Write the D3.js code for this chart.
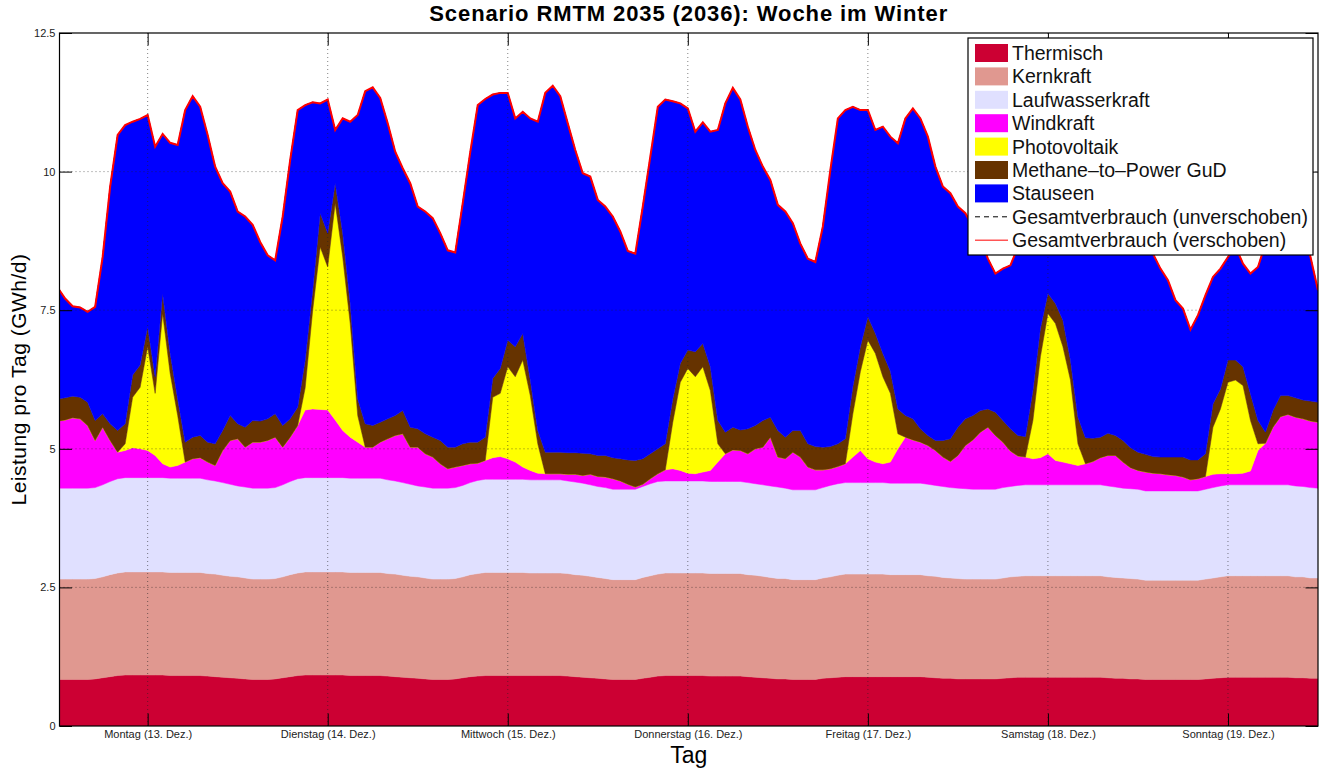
<!DOCTYPE html>
<html>
<head>
<meta charset="utf-8">
<script src="https://cdn.jsdelivr.net/npm/d3@7"></script>
<style>
body { margin: 0; background: #fff; }
text { font-family: "Liberation Sans", Arial, sans-serif; }
</style>
</head>
<body>
<script>
// hourly values, Montag 0:00 .. Sonntag 24:00 (GWh/d)
var dayTicks = [12, 36, 60, 84, 108, 132, 156];
var dayLabels = ["Montag (13. Dez.)", "Dienstag (14. Dez.)", "Mittwoch (15. Dez.)", "Donnerstag (16. Dez.)",
                 "Freitag (17. Dez.)", "Samstag (18. Dez.)", "Sonntag (19. Dez.)"];
var yTicks = [0, 2.5, 5, 7.5, 10, 12.5];
var yTickLabels = ["0", "2.5", "5", "7.5", "10", "12.5"];
var seriesNames = ["Thermisch", "Kernkraft", "Laufwasserkraft", "Windkraft", "Photovoltaik", "Methane\u2013to\u2013Power GuD", "Stauseen"];
var seriesColors = ["#cc0033", "#e09890", "#e0e0ff", "#ff00ff", "#ffff00", "#663300", "#0000ff"];

var thermisch = [
  .84,.84,.84,.84,.84,.85,.87,.89,.91,.92,.92,.92,.92,.92,.92,.91,.91,.91,.91,.91,.90,.89,.88,.87,
  .86,.85,.84,.84,.84,.85,.87,.89,.91,.92,.92,.92,.92,.92,.92,.91,.91,.91,.91,.91,.90,.89,.88,.87,
  .86,.85,.84,.84,.84,.85,.87,.89,.90,.91,.91,.91,.91,.91,.91,.91,.91,.91,.91,.91,.90,.89,.88,.87,
  .86,.85,.84,.84,.84,.84,.86,.88,.90,.91,.91,.91,.91,.91,.91,.90,.90,.90,.90,.90,.89,.88,.87,.86,
  .85,.85,.84,.84,.84,.84,.86,.87,.88,.89,.89,.89,.89,.89,.89,.89,.89,.89,.89,.89,.88,.87,.86,.86,
  .85,.85,.85,.85,.85,.85,.86,.87,.88,.88,.88,.88,.88,.88,.88,.88,.88,.88,.88,.88,.87,.86,.86,.85,
  .85,.84,.84,.84,.84,.84,.84,.84,.84,.85,.86,.87,.88,.88,.88,.88,.88,.88,.88,.88,.88,.87,.87,.86,.86];
var kernkraft = [
  1.81,1.81,1.81,1.81,1.81,1.81,1.82,1.84,1.85,1.86,1.86,1.86,1.86,1.86,1.86,1.86,1.86,1.86,1.86,1.86,1.85,1.85,1.84,1.83,
  1.83,1.82,1.81,1.81,1.81,1.81,1.82,1.84,1.85,1.86,1.86,1.86,1.86,1.86,1.86,1.86,1.86,1.86,1.86,1.86,1.85,1.85,1.84,1.83,
  1.83,1.82,1.81,1.81,1.81,1.81,1.82,1.84,1.85,1.86,1.86,1.86,1.86,1.86,1.86,1.85,1.85,1.85,1.85,1.85,1.85,1.84,1.84,1.83,
  1.82,1.81,1.80,1.80,1.80,1.80,1.82,1.83,1.84,1.85,1.85,1.85,1.85,1.85,1.85,1.85,1.85,1.85,1.85,1.85,1.84,1.84,1.83,1.82,
  1.81,1.81,1.80,1.80,1.80,1.80,1.81,1.82,1.84,1.85,1.85,1.85,1.85,1.85,1.85,1.84,1.84,1.84,1.84,1.84,1.83,1.83,1.82,1.81,
  1.81,1.80,1.80,1.80,1.80,1.80,1.81,1.82,1.82,1.83,1.83,1.83,1.83,1.83,1.83,1.83,1.83,1.83,1.83,1.83,1.82,1.82,1.81,1.81,
  1.80,1.79,1.79,1.79,1.79,1.79,1.79,1.79,1.79,1.80,1.81,1.82,1.83,1.83,1.83,1.83,1.83,1.83,1.83,1.83,1.83,1.82,1.82,1.81,1.81];
var laufwasser = [
  1.64,1.64,1.64,1.64,1.64,1.64,1.66,1.68,1.70,1.70,1.70,1.70,1.70,1.70,1.70,1.70,1.70,1.70,1.70,1.70,1.69,1.68,1.67,1.66,
  1.64,1.64,1.64,1.64,1.64,1.64,1.66,1.68,1.70,1.70,1.70,1.70,1.70,1.70,1.70,1.70,1.70,1.70,1.70,1.70,1.69,1.68,1.67,1.66,
  1.64,1.64,1.64,1.64,1.64,1.64,1.65,1.66,1.68,1.68,1.68,1.68,1.68,1.68,1.68,1.68,1.68,1.68,1.68,1.68,1.67,1.67,1.66,1.65,
  1.64,1.64,1.63,1.63,1.63,1.63,1.64,1.66,1.67,1.66,1.66,1.66,1.66,1.66,1.66,1.66,1.66,1.66,1.66,1.66,1.66,1.65,1.65,1.65,
  1.65,1.63,1.62,1.62,1.62,1.62,1.63,1.65,1.65,1.65,1.65,1.65,1.65,1.65,1.65,1.65,1.65,1.65,1.65,1.65,1.65,1.64,1.64,1.63,
  1.63,1.63,1.62,1.62,1.62,1.62,1.63,1.63,1.64,1.64,1.64,1.64,1.64,1.64,1.64,1.64,1.64,1.64,1.64,1.64,1.64,1.63,1.62,1.62,
  1.62,1.61,1.61,1.61,1.61,1.61,1.61,1.61,1.61,1.62,1.63,1.64,1.64,1.64,1.64,1.64,1.64,1.64,1.64,1.64,1.64,1.64,1.63,1.63,1.62];
var windkraft = [
  1.21,1.23,1.27,1.25,1.13,.85,1.04,.74,.48,.49,.54,.52,.49,.40,.25,.20,.23,.29,.35,.37,.32,.28,.58,.79,
  .85,.72,.83,.83,.86,.91,.68,.80,.96,1.22,1.24,1.23,1.22,1.04,.85,.74,.65,.56,.56,.65,.74,.82,.88,.67,
  .70,.60,.56,.44,.35,.37,.36,.34,.31,.34,.39,.41,.37,.31,.22,.17,.12,.11,.11,.11,.12,.14,.14,.19,
  .18,.19,.19,.15,.09,.04,.04,.09,.14,.20,.22,.19,.14,.13,.16,.20,.35,.50,.57,.56,.52,.63,.68,.88,
  .54,.53,.68,.59,.41,.36,.32,.30,.31,.34,.46,.58,.43,.37,.34,.38,.62,.83,.78,.74,.70,.63,.53,.47,
  .59,.78,.89,1.03,1.12,.97,.82,.64,.53,.50,.47,.49,.56,.44,.41,.38,.35,.38,.42,.49,.55,.57,.47,.38,
  .34,.34,.32,.31,.29,.28,.25,.20,.22,.23,.24,.22,.20,.20,.21,.25,.62,.75,1.04,1.23,1.27,1.24,1.22,1.20,1.19];
var photovoltaik = [
  0,0,0,0,0,0,0,0,0,.12,.91,1.11,1.87,1.12,2.71,1.69,.90,0,0,0,0,0,0,0,
  0,0,0,0,0,0,0,0,0,.40,1.78,2.93,2.58,3.91,3.13,2.05,.48,0,0,0,0,0,0,0,
  0,0,0,0,0,0,0,0,0,0,1.09,1.14,1.66,1.54,1.93,1.35,.53,0,0,0,0,0,0,0,
  0,0,0,0,0,0,0,0,0,0,.84,1.59,1.89,1.75,1.90,1.44,.33,0,0,0,0,0,0,0,
  0,0,0,0,0,0,0,0,0,0,.78,1.42,2.14,1.96,1.57,1.24,.27,0,0,0,0,0,0,0,
  0,0,0,0,0,0,0,0,0,0,.69,1.82,2.53,2.47,2.08,1.51,.39,0,0,0,0,0,0,0,
  0,0,0,0,0,0,0,0,0,0,.85,1.17,1.65,1.69,1.58,.91,.12,0,0,0,0,0,0,0,0];
var methanGud = [
  .40,.40,.39,.39,.42,.36,.24,.30,.39,.36,.40,.40,.36,.30,.36,.36,.30,.36,.39,.40,.36,.39,.36,.45,
  .27,.36,.39,.38,.39,.42,.39,.33,.33,.50,.36,.61,.61,.36,.43,.36,.30,.42,.39,.36,.36,.36,.42,.36,
  .33,.36,.36,.42,.39,.36,.39,.39,.38,.42,.34,.45,.48,.54,.48,.28,.24,.39,.39,.39,.39,.39,.40,.37,
  .38,.39,.38,.40,.44,.48,.46,.45,.45,.47,.42,.34,.33,.45,.42,.43,.42,.39,.41,.37,.45,.42,.48,.36,
  .48,.39,.39,.48,.42,.42,.41,.40,.41,.45,.49,.45,.42,.36,.42,.40,.45,.39,.38,.24,.18,.18,.30,.41,
  .51,.48,.44,.39,.33,.42,.39,.40,.37,.37,.54,.51,.36,.36,.48,.36,.48,.47,.42,.37,.40,.36,.39,.36,
  .33,.32,.30,.30,.32,.33,.36,.36,.34,.41,.42,.36,.40,.36,.34,.48,.42,.20,.30,.38,.34,.35,.34,.36,.36];
var stauseen = [
  2.01,1.79,1.62,1.62,1.63,2.05,2.83,4.28,5.33,5.39,4.57,4.44,3.82,4.15,2.88,3.80,4.58,5.99,6.15,5.93,5.54,5.00,4.46,4.04,
  3.83,3.80,3.53,3.23,2.95,2.77,3.77,4.67,5.36,4.60,3.39,1.98,2.41,.96,2.07,3.28,5.12,6.00,6.10,5.85,5.33,4.76,4.37,4.40,
  4.01,4.01,3.95,3.74,3.55,3.51,4.34,5.23,6.08,6.10,5.12,4.97,4.46,4.12,4.00,4.72,5.57,6.48,6.61,6.42,5.94,5.46,5.05,5.00,
  4.61,4.49,4.35,4.10,3.77,3.73,4.55,5.36,6.17,6.21,5.37,4.69,4.36,3.97,3.99,4.24,5.24,5.93,6.12,5.96,5.45,4.97,4.58,4.28,
  4.07,4.07,3.74,3.37,3.34,3.33,3.98,4.99,5.87,5.93,5.05,4.27,3.73,3.67,4.09,4.23,4.79,5.36,5.60,5.60,5.39,4.94,4.58,4.43,
  3.98,3.71,3.40,3.11,2.71,2.50,2.74,2.95,3.40,4.28,4.25,3.43,2.90,2.98,3.08,3.70,4.83,5.40,5.51,5.29,4.82,4.46,4.25,4.18,
  4.06,3.90,3.66,3.40,3.19,2.83,2.68,2.35,2.61,2.86,2.29,2.17,1.86,2.05,1.86,2.17,2.77,3.40,3.21,3.04,3.14,3.08,3.02,2.60,2.02];
var gesamtverbrauch = [
  7.91,7.71,7.57,7.55,7.47,7.56,8.46,9.73,10.66,10.84,10.90,10.95,11.02,10.45,10.68,10.52,10.48,11.11,11.36,11.17,10.66,10.09,9.79,9.64,
  9.28,9.19,9.04,8.73,8.49,8.40,9.19,10.21,11.11,11.20,11.25,11.23,11.30,10.75,10.96,10.90,11.02,11.45,11.52,11.33,10.87,10.36,10.06,9.79,
  9.37,9.28,9.16,8.89,8.58,8.54,9.43,10.35,11.20,11.31,11.39,11.42,11.42,10.96,11.08,10.96,10.90,11.42,11.55,11.36,10.87,10.39,9.97,9.91,
  9.49,9.37,9.19,8.92,8.57,8.52,9.37,10.27,11.17,11.30,11.27,11.23,11.14,10.72,10.89,10.72,10.75,11.23,11.51,11.30,10.81,10.39,10.09,9.85,
  9.40,9.28,9.07,8.70,8.43,8.37,9.01,10.03,10.96,11.11,11.17,11.11,11.11,10.75,10.81,10.63,10.51,10.96,11.14,10.96,10.63,10.09,9.73,9.61,
  9.37,9.25,9.00,8.80,8.43,8.16,8.25,8.31,8.64,9.50,10.30,10.60,10.70,10.60,10.40,10.30,10.40,10.60,10.70,10.50,10.10,9.70,9.40,9.20,
  9.00,8.80,8.52,8.25,8.04,7.68,7.53,7.15,7.41,7.77,8.10,8.25,8.46,8.65,8.34,8.16,8.28,8.70,8.90,9.00,9.10,9.00,8.90,8.46,7.86];

var width = 1321, height = 769;
var plot = {left: 59.5, right: 1318, top: 33, bottom: 726};

var svg = d3.select("body").append("svg")
    .attr("width", width)
    .attr("height", height);

var x = d3.scaleLinear().domain([0.25, 168]).range([plot.left, plot.right]);
var y = d3.scaleLinear().domain([0, 12.5]).range([plot.bottom, plot.top]);

// build the table for the stack
var seriesData = [thermisch, kernkraft, laufwasser, windkraft, photovoltaik, methanGud, stauseen];
var table = gesamtverbrauch.map(function(v, i) {
  var row = {h: i};
  seriesNames.forEach(function(n, k) { row[n] = seriesData[k][i]; });
  return row;
});
var stacked = d3.stack().keys(seriesNames)(table);

svg.append("clipPath").attr("id", "clip")
  .append("rect")
    .attr("x", plot.left).attr("y", plot.top)
    .attr("width", plot.right - plot.left).attr("height", plot.bottom - plot.top);

var g = svg.append("g").attr("clip-path", "url(#clip)");

var area = d3.area()
  .x(function(d) { return x(d.data.h); })
  .y0(function(d) { return y(d[0]); })
  .y1(function(d) { return y(d[1]); });

g.selectAll("path.layer")
  .data(stacked)
  .enter()
  .append("path")
    .attr("class", "layer")
    .attr("d", area)
    .attr("fill", function(d, i) { return seriesColors[i]; })
    .attr("stroke", function(d, i) { return seriesColors[i]; })
    .attr("stroke-width", 0.5);

// grid (drawn on top like the original)
var grid = svg.append("g").attr("stroke", "#222").attr("stroke-width", 0.8)
  .attr("stroke-dasharray", "1,3").attr("opacity", 0.7);
grid.selectAll("line.gx").data(dayTicks).enter().append("line")
  .attr("x1", function(d) { return x(d); }).attr("x2", function(d) { return x(d); })
  .attr("y1", plot.top).attr("y2", plot.bottom);
grid.selectAll("line.gy").data(yTicks.slice(1, -1)).enter().append("line")
  .attr("x1", plot.left).attr("x2", plot.right)
  .attr("y1", function(d) { return y(d); }).attr("y2", function(d) { return y(d); });

// consumption lines
var line = d3.line()
  .x(function(d, i) { return x(i); })
  .y(function(d) { return y(d); });
g.append("path")
  .attr("d", line(gesamtverbrauch))
  .attr("fill", "none").attr("stroke", "#000").attr("stroke-width", 1)
  .attr("stroke-dasharray", "4,3");
g.append("path")
  .attr("d", line(gesamtverbrauch))
  .attr("fill", "none").attr("stroke", "#ff0000").attr("stroke-width", 2);

// axes with inward ticks on all four sides
var tick = 12.5;
var xAxis = svg.append("g")
  .attr("transform", "translate(0," + plot.bottom + ")")
  .call(d3.axisBottom(x).tickValues(dayTicks)
    .tickFormat(function(d, i) { return dayLabels[i]; })
    .tickSizeInner(-tick).tickSizeOuter(0).tickPadding(4));
xAxis.selectAll("text").attr("font-size", "11px").attr("fill", "#222");
svg.append("g")
  .attr("transform", "translate(0," + plot.top + ")")
  .call(d3.axisTop(x).tickValues(dayTicks).tickFormat("").tickSizeInner(-tick).tickSizeOuter(0));

var yAxis = svg.append("g")
  .attr("transform", "translate(" + plot.left + ",0)")
  .call(d3.axisLeft(y).tickValues(yTicks)
    .tickFormat(function(d, i) { return yTickLabels[i]; })
    .tickSizeInner(-tick).tickSizeOuter(0).tickPadding(4));
yAxis.selectAll("text").attr("font-size", "11px").attr("fill", "#222");
svg.append("g")
  .attr("transform", "translate(" + plot.right + ",0)")
  .call(d3.axisRight(y).tickValues(yTicks).tickFormat("").tickSizeInner(-tick).tickSizeOuter(0));

svg.selectAll(".domain").remove();
svg.selectAll(".tick line").attr("stroke", "#000");

svg.append("rect")
  .attr("x", plot.left).attr("y", plot.top)
  .attr("width", plot.right - plot.left).attr("height", plot.bottom - plot.top)
  .attr("fill", "none").attr("stroke", "#000").attr("stroke-width", 1.2);

// titles
svg.append("text")
  .attr("x", (plot.left + plot.right) / 2).attr("y", 21)
  .attr("text-anchor", "middle").attr("font-size", "22px").attr("font-weight", "bold")
  .attr("letter-spacing", "0.9px")
  .text("Scenario RMTM 2035 (2036): Woche im Winter");
svg.append("text")
  .attr("x", (plot.left + plot.right) / 2).attr("y", 763)
  .attr("text-anchor", "middle").attr("font-size", "23px")
  .text("Tag");
svg.append("text")
  .attr("transform", "translate(26," + ((plot.top + plot.bottom) / 2) + ")rotate(-90)")
  .attr("text-anchor", "middle").attr("font-size", "21px").attr("letter-spacing", "0.5px")
  .text("Leistung pro Tag (GWh/d)");

// legend
var legend = svg.append("g").attr("transform", "translate(968,38)");
legend.append("rect")
  .attr("width", 345).attr("height", 217)
  .attr("fill", "#fff").attr("stroke", "#000").attr("stroke-width", 1.2);
var rowH = 23.4;
var items = seriesNames.map(function(n, i) { return {name: n, color: seriesColors[i], kind: "area"}; });
items.push({name: "Gesamtverbrauch (unverschoben)", color: "#000", kind: "dash"});
items.push({name: "Gesamtverbrauch (verschoben)", color: "#ff5555", kind: "line"});
var rows = legend.selectAll("g.item").data(items).enter().append("g")
  .attr("class", "item")
  .attr("transform", function(d, i) { return "translate(0," + (15 + i * rowH) + ")"; });
rows.filter(function(d) { return d.kind === "area"; }).append("rect")
  .attr("x", 7).attr("y", -9).attr("width", 33).attr("height", 18)
  .attr("fill", function(d) { return d.color; });
rows.filter(function(d) { return d.kind !== "area"; }).append("line")
  .attr("x1", 7).attr("x2", 40).attr("y1", 0).attr("y2", 0)
  .attr("stroke", function(d) { return d.color; })
  .attr("stroke-width", function(d) { return d.kind === "dash" ? 1 : 1.5; })
  .attr("stroke-dasharray", function(d) { return d.kind === "dash" ? "5,4" : null; });
rows.append("text")
  .attr("x", 44).attr("y", 7)
  .attr("font-size", "19.5px").attr("fill", "#111")
  .text(function(d) { return d.name; });
</script>
</body>
</html>
